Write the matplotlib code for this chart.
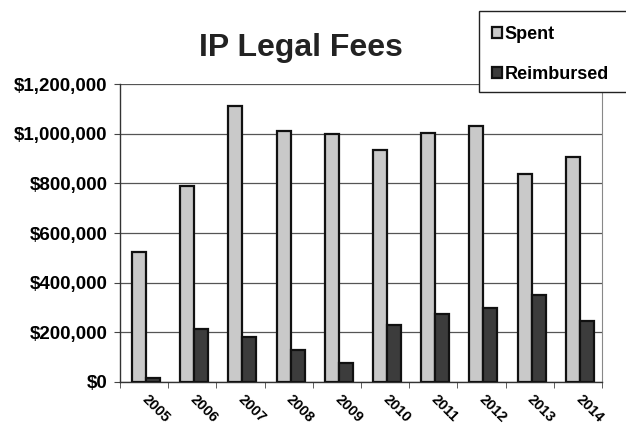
import matplotlib
matplotlib.use("Agg")
import matplotlib.pyplot as plt
import numpy as np
from matplotlib.ticker import FuncFormatter, MultipleLocator
from matplotlib.patches import Rectangle

years = ["2005", "2006", "2007", "2008", "2009", "2010", "2011", "2012", "2013", "2014"]
spent = [523000, 789000, 1113000, 1013000, 997000, 935000, 1005000, 1030000, 838000, 905000]
reimbursed = [15000, 215000, 180000, 130000, 75000, 228000, 273000, 298000, 350000, 245000]

plt.rcParams['font.family'] = ['Liberation Sans', 'DejaVu Sans']

fig = plt.figure(figsize=(6.26, 4.28), dpi=100)
ax = fig.add_axes([0.1917, 0.1075, 0.77, 0.696])

x = np.arange(len(years))
w = 0.29
ax.bar(x - w/2 + 0.04, spent, w, color='#c9c9c9', edgecolor='#111111', linewidth=1.6, label='Spent', zorder=3)
ax.bar(x + w/2 + 0.04, reimbursed, w, color='#3c3c3c', edgecolor='#111111', linewidth=1.6, label='Reimbursed', zorder=3)

ax.set_xlim(-0.5, len(years) - 0.5)
ax.set_ylim(0, 1200000)
ax.yaxis.set_major_locator(MultipleLocator(200000))
ax.yaxis.set_major_formatter(FuncFormatter(lambda v, p: "${:,.0f}".format(v)))
ax.grid(axis='y', color='#555555', linewidth=0.9, zorder=0)

ax.set_xticks(x)
ax.set_xticklabels(years, rotation=-45, ha='left', va='center', rotation_mode='anchor', fontsize=10.5, fontweight='bold')
ax.set_xticks(np.arange(-0.5, len(years)), minor=True)
ax.tick_params(axis='x', which='major', length=0, pad=11)
ax.tick_params(axis='x', which='minor', length=4, color='#444444')
ax.tick_params(axis='y', length=4, color='#444444', labelsize=13.5, pad=5)
for lab in ax.get_yticklabels():
    lab.set_fontweight('bold')

for s in ['left', 'bottom']:
    ax.spines[s].set_color('#333333')
    ax.spines[s].set_linewidth(1.0)
ax.spines['top'].set_visible(False)
ax.spines['right'].set_color('#888888')
ax.spines['right'].set_linewidth(0.8)

fig.text(0.48, 0.888, "IP Legal Fees", ha='center', va='center', fontsize=23, fontweight='bold', color='#222222')

# legend box extending past right edge as in the reference
fig.patches.append(Rectangle((479/626, 1 - 92/428), 0.3, (92 - 11)/428, transform=fig.transFigure,
                             facecolor='white', edgecolor='#222222', linewidth=1.0, zorder=5))
leg = fig.legend(loc='upper left', bbox_to_anchor=(488/626, 1 - 22/428), frameon=False,
                 handlelength=0.55, handleheight=0.6, handletextpad=0.15, borderaxespad=0,
                 labelspacing=1.3, borderpad=0.2, prop={'weight': 'bold', 'size': 13})
leg.set_zorder(6)

fig.savefig("out.png", dpi=100, facecolor='white')
